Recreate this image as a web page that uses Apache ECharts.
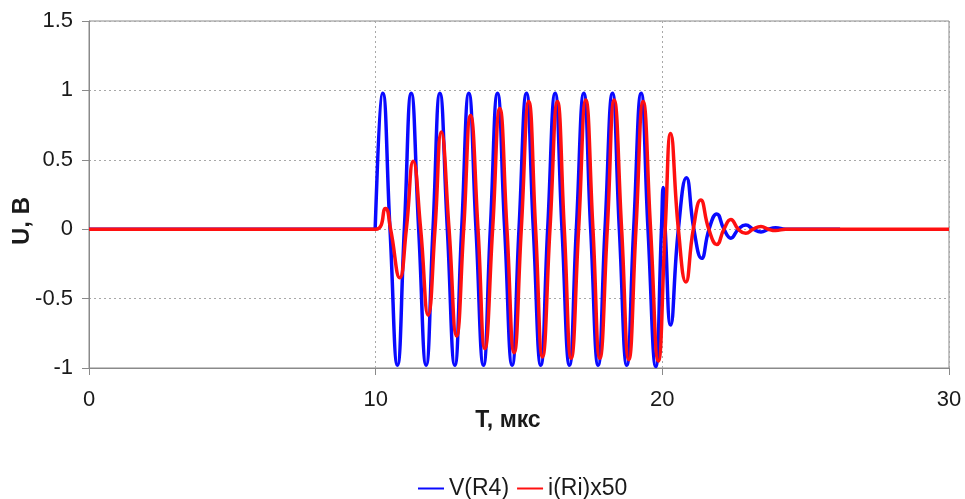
<!DOCTYPE html>
<html><head><meta charset="utf-8">
<script src="https://cdn.jsdelivr.net/npm/echarts@6/dist/echarts.min.js"></script>
<style>html,body{margin:0;padding:0;background:#fff}#c{width:965px;height:499px}</style>
</head><body><div id="c"></div>
<script>
const xTicks = [0, 10, 20, 30];
const yTicks = [-1, -0.5, 0, 0.5, 1, 1.5];
const seriesNames = ['V(R4)', 'i(Ri)x50'];
const xTitle = 'T, мкс';
const yTitle = 'U, В';

// V(R4): time (us) and value (V), read at peaks and zero crossings
const vTime = [0, 9.98, 10.0, 10.25, 10.5, 10.76, 11.0, 11.24, 11.5, 11.76, 12.0, 12.24, 12.5, 12.76, 13.0, 13.25, 13.5, 13.76, 14.0, 14.25, 14.5, 14.76, 15.0, 15.26, 15.5, 15.76, 16.0, 16.26, 16.5, 16.76, 17.0, 17.26, 17.5, 17.76, 18.0, 18.26, 18.5, 18.76, 19.0, 19.26, 19.5, 19.77, 19.97, 20.03, 20.1, 20.29, 20.56, 20.84, 21.1, 21.37, 21.63, 21.9, 22.15, 22.39, 22.65, 22.91, 23.17, 23.44, 23.7, 23.95, 24.3, 26.2];
const vValue = [0, 0, 0, 0.98, 0, -0.98, 0, 0.98, 0, -0.98, 0, 0.98, 0, -0.98, 0, 0.98, 0, -0.98, 0, 0.98, 0, -0.98, 0, 0.98, 0, -0.98, 0, 0.98, 0, -0.98, 0, 0.98, 0, -0.98, 0, 0.98, 0, -0.98, 0, 0.98, 0, -0.99, 0, 0.30, 0, -0.69, 0, 0.37, 0, -0.21, 0, 0.11, 0, -0.065, 0, 0.03, 0, -0.02, 0, 0.01, 0, 0];

// i(Ri)x50
const iTime = [0, 10.0, 10.34, 10.52, 10.84, 11.07, 11.31, 11.57, 11.83, 12.07, 12.29, 12.56, 12.82, 13.07, 13.31, 13.57, 13.81, 14.08, 14.33, 14.58, 14.83, 15.08, 15.34, 15.58, 15.82, 16.08, 16.34, 16.58, 16.82, 17.08, 17.33, 17.58, 17.82, 18.08, 18.32, 18.58, 18.83, 19.08, 19.33, 19.59, 19.86, 20.1, 20.29, 20.56, 20.82, 21.08, 21.34, 21.62, 21.9, 22.15, 22.39, 22.65, 22.91, 23.17, 23.44, 23.7, 23.95, 24.3, 30];
const iValue = [0, 0, 0.15, 0, -0.35, 0, 0.49, 0, -0.62, 0, 0.70, 0, -0.77, 0, 0.82, 0, -0.86, 0, 0.87, 0, -0.89, 0, 0.92, 0, -0.92, 0, 0.92, 0, -0.93, 0, 0.93, 0, -0.93, 0, 0.93, 0, -0.94, 0, 0.92, 0, -0.95, 0, 0.69, 0, -0.38, 0, 0.21, 0, -0.11, 0, 0.07, 0, -0.03, 0, 0.02, 0, -0.01, 0, 0];

const zip = (a, b) => a.map((t, k) => [t, b[k]]);
const FONT = '"Liberation Sans", Arial, sans-serif';
const TXT = '#1a1a1a';
const AX = '#8a8a8a';

const chart = echarts.init(document.getElementById('c'), null, {renderer: 'canvas'});
chart.setOption({
  animation: false,
  backgroundColor: '#fff',
  grid: {left: 89, right: 16, top: 21, bottom: 131, show: true, borderColor: AX, borderWidth: 1, backgroundColor: 'transparent'},
  xAxis: {
    type: 'value', min: xTicks[0], max: xTicks[xTicks.length - 1], interval: xTicks[1] - xTicks[0],
    axisLine: {show: true, onZero: false, lineStyle: {color: AX, width: 1}},
    axisTick: {show: true, length: 7, lineStyle: {color: AX}},
    axisLabel: {fontFamily: FONT, fontSize: 22, color: TXT, margin: 21},
    splitLine: {show: true, lineStyle: {color: '#a8a8a8', type: [2, 3], width: 1}}
  },
  yAxis: {
    type: 'value', min: yTicks[0], max: yTicks[yTicks.length - 1], interval: yTicks[1] - yTicks[0],
    axisLine: {show: true, onZero: false, lineStyle: {color: AX, width: 1}},
    axisTick: {show: true, length: 7, lineStyle: {color: AX}},
    axisLabel: {fontFamily: FONT, fontSize: 22, color: TXT, margin: 16},
    splitLine: {show: true, lineStyle: {color: '#a8a8a8', type: [2, 3], width: 1}}
  },
  legend: {
    left: 413, top: 472, itemWidth: 26, itemHeight: 2, itemGap: 8, icon: 'rect',
    textStyle: {fontFamily: FONT, fontSize: 23, color: TXT},
    data: seriesNames
  },
  graphic: [
    {type: 'text', x: 508, y: 421, style: {text: xTitle, font: 'bold 23px ' + FONT, fill: TXT, align: 'center', verticalAlign: 'middle', textAlign: 'center', textVerticalAlign: 'middle'}},
    {type: 'text', x: 22, y: 221, rotation: Math.PI / 2, style: {text: yTitle, font: 'bold 24px ' + FONT, fill: TXT, align: 'center', verticalAlign: 'middle', textAlign: 'center', textVerticalAlign: 'middle'}}
  ],
  series: [
    {name: seriesNames[0], type: 'line', data: zip(vTime, vValue), showSymbol: false, smooth: 0.5, color: '#0a0aff', lineStyle: {width: 3.5, color: '#0a0aff'}, z: 2},
    {name: seriesNames[1], type: 'line', data: zip(iTime, iValue), showSymbol: false, smooth: 0.5, color: '#ff1010', lineStyle: {width: 3.5, color: '#ff1010'}, z: 3}
  ]
});
</script>
</body></html>
